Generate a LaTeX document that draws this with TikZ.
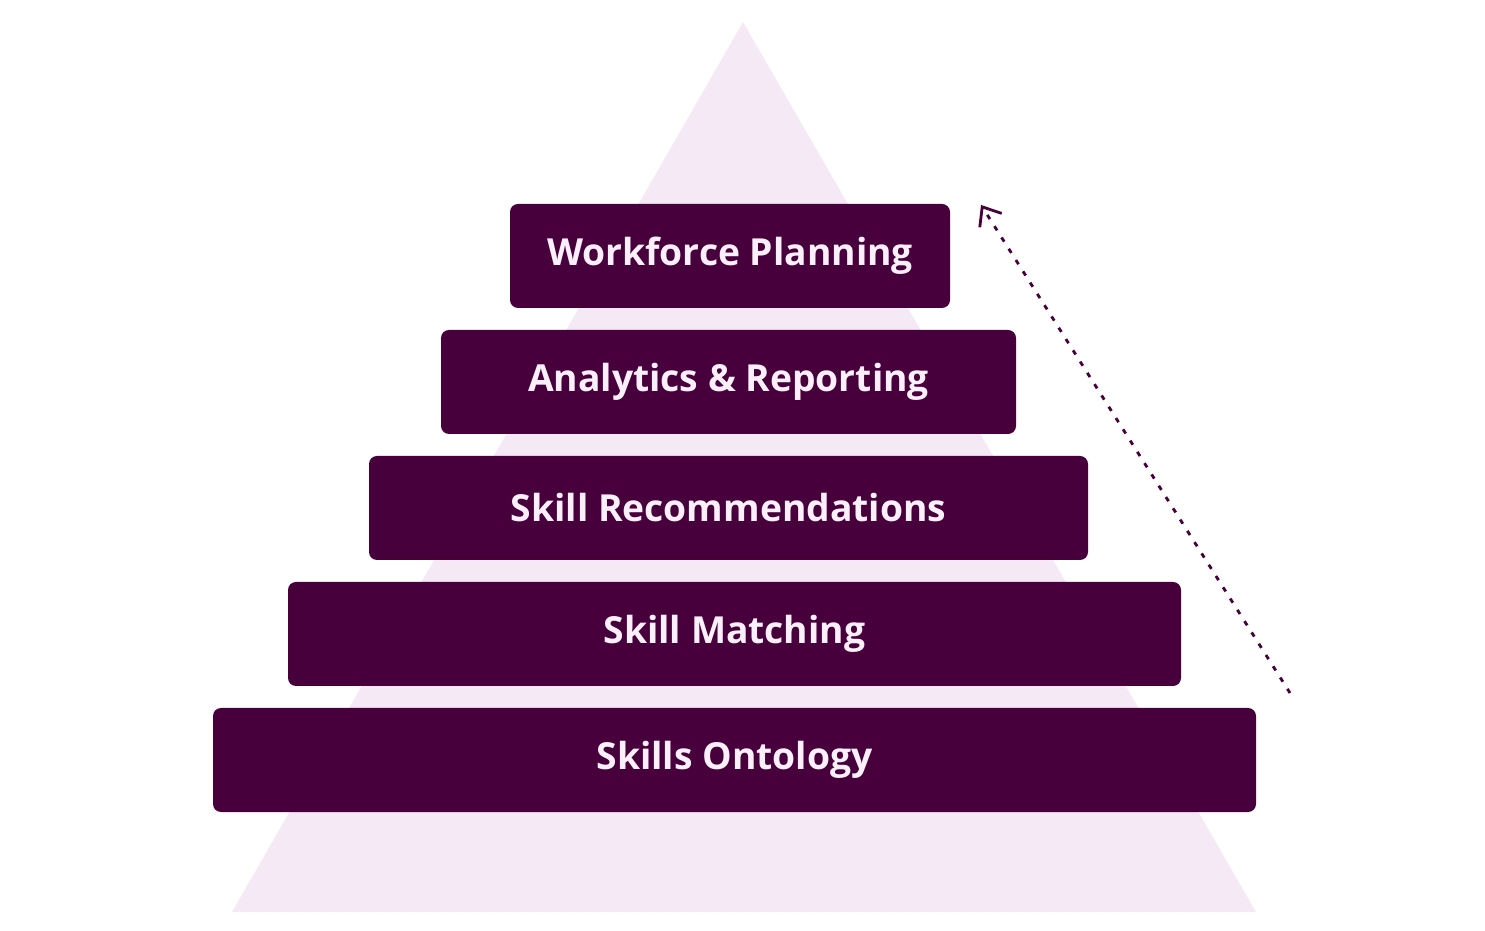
\documentclass[tikz,border=0pt]{standalone}
\usepackage{fontspec}
\setmainfont{Open Sans}
\usetikzlibrary{arrows.meta}
\usetikzlibrary{positioning}
\definecolor{plum}{HTML}{47003C}
\definecolor{blush}{HTML}{F6E9F6}
\definecolor{paletext}{HTML}{FBEFFA}
\begin{document}
\begin{tikzpicture}
				\tikzset{layer/.style = {shape=rectangle, fill=plum, rounded corners=0.08cm,
						minimum height=1.04cm, inner sep=0pt,
						text=paletext, font=\fontsize{10.6}{12}\selectfont\bfseries}}
				\tikzset{rise/.style = {-{Straight Barb[length=1.6mm,width=2.6mm]}, plum, thick,
						dash pattern=on 1.4pt off 2.4pt}}
				
				\useasboundingbox (0,0) rectangle (14.85,9.3);
				% background triangle
				\fill[blush] (2.32,0.18) -- (7.43,9.08) -- (12.56,0.18) -- cycle;
				
				% layers
				\node[layer, minimum width=4.40cm] (plan) at (7.30,6.74) {Workforce Planning};
				\node[layer, minimum width=5.75cm] (anal) at (7.285,5.48) {Analytics \& Reporting};
				\node[layer, minimum width=7.19cm] (reco) at (7.285,4.22) {Skill Recommendations};
				\node[layer, minimum width=8.93cm] (match) at (7.345,2.96) {Skill Matching};
				\node[layer, minimum width=10.43cm] (onto) at (7.345,1.70) {Skills Ontology};
				
				%arrow
				\coordinate (low) at (12.90,2.37);
				\coordinate (high) at (9.81,7.25);
				\draw[rise] (low) -- (high);
				
				\end{tikzpicture}
\end{document}
